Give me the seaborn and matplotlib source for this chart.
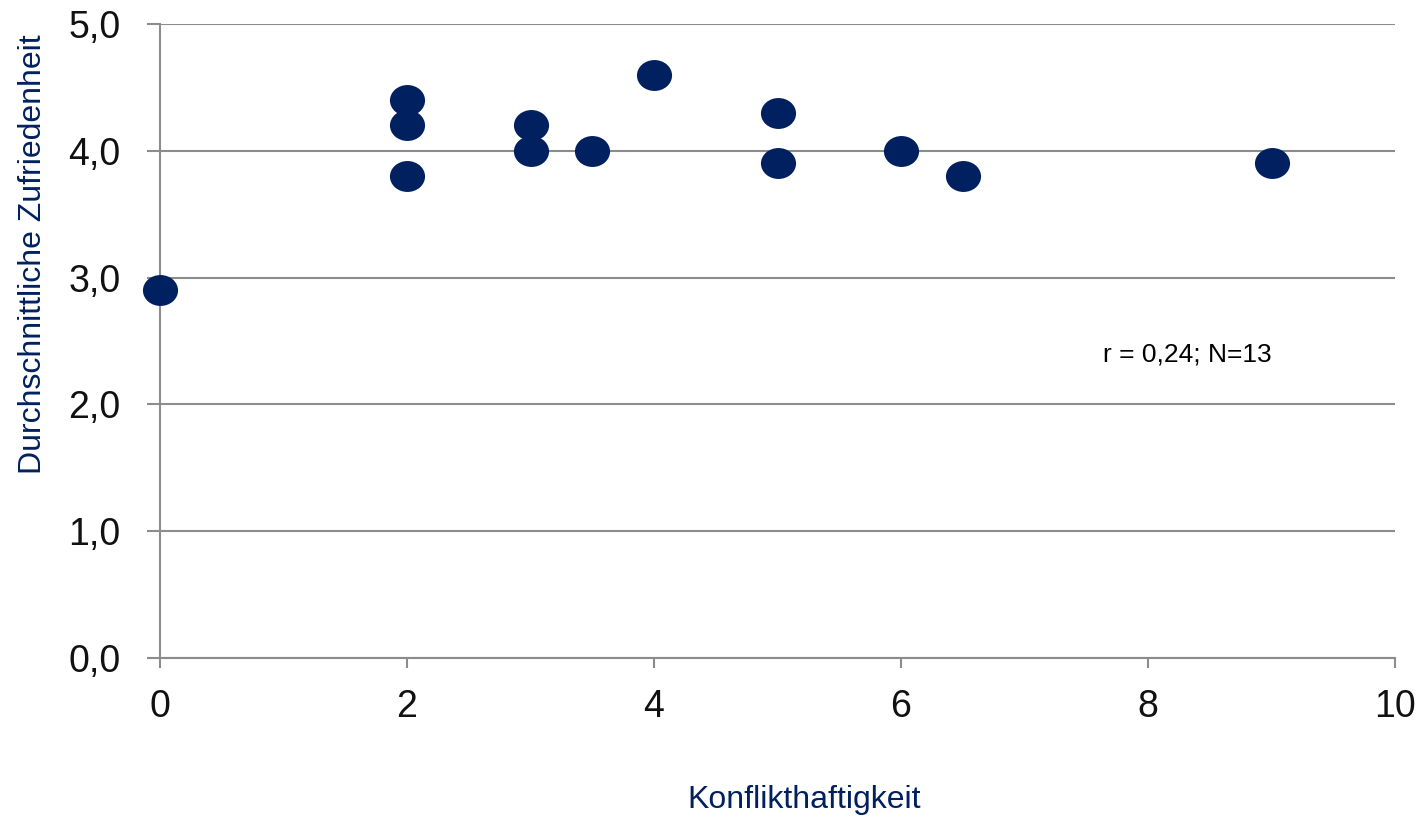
import numpy as np
import pandas as pd
import matplotlib
matplotlib.use("Agg")
import matplotlib.pyplot as plt
from matplotlib.path import Path
import seaborn as sns

# Data
konflikt = [0, 2, 2, 2, 3, 3, 3.5, 4, 5, 5, 6, 6.5, 9]
zufriedenheit = [2.9, 4.4, 4.2, 3.8, 4.2, 4.0, 4.0, 4.6, 4.3, 3.9, 4.0, 3.8, 3.9]
x_ticks = [0, 2, 4, 6, 8, 10]
y_ticks = [0, 1, 2, 3, 4, 5]
y_tick_labels = ["0,0", "1,0", "2,0", "3,0", "4,0", "5,0"]

df = pd.DataFrame({"Konflikthaftigkeit": konflikt, "Zufriedenheit": zufriedenheit})

sns.set_style("white")
plt.rcParams['font.family'] = ['Liberation Sans', 'DejaVu Sans']

navy = "#002060"
grey = "#8c8c8c"

# slightly wide ellipse marker
circ = Path.unit_circle()
ellipse = Path(circ.vertices * np.array([1.0, 0.88]), circ.codes)

fig = plt.figure(figsize=(14.25, 8.18), dpi=100)
ax = fig.add_axes([0.1123, 0.1956, 0.979 - 0.1123, 0.9707 - 0.1956])

sns.scatterplot(data=df, x="Konflikthaftigkeit", y="Zufriedenheit", ax=ax,
                marker=ellipse, s=640, color=navy, edgecolor=navy, linewidth=0,
                clip_on=False, zorder=5)

ax.set_xlim(0, 10)
ax.set_ylim(0, 5)
ax.set_xticks(x_ticks)
ax.set_yticks(y_ticks)
ax.set_yticklabels(y_tick_labels)
ax.yaxis.grid(True, color=grey, linewidth=1.5)
ax.set_axisbelow(True)

for side in ["top", "right"]:
    ax.spines[side].set_visible(False)
for side in ["left", "bottom"]:
    ax.spines[side].set_color(grey)
    ax.spines[side].set_linewidth(1.5)

ax.tick_params(axis="y", length=9.5, width=1.5, color=grey, labelsize=27,
               labelcolor="#111111", pad=19, left=True)
ax.tick_params(axis="x", length=7.5, width=1.5, color=grey, labelsize=27,
               labelcolor="#111111", pad=15, bottom=True)

ax.set_xlabel("Konflikthaftigkeit", fontsize=23, color=navy, labelpad=0)
ax.set_ylabel("Durchschnittliche Zufriedenheit", fontsize=23, color=navy, labelpad=0)
ax.xaxis.set_label_coords(0.5215, -0.200)
ax.yaxis.set_label_coords(-0.0907, 0.637)

ax.text(8.32, 2.39, "r = 0,24; N=13", fontsize=19, color="black", ha="center", va="center")

fig.savefig("out.png", dpi=100)
